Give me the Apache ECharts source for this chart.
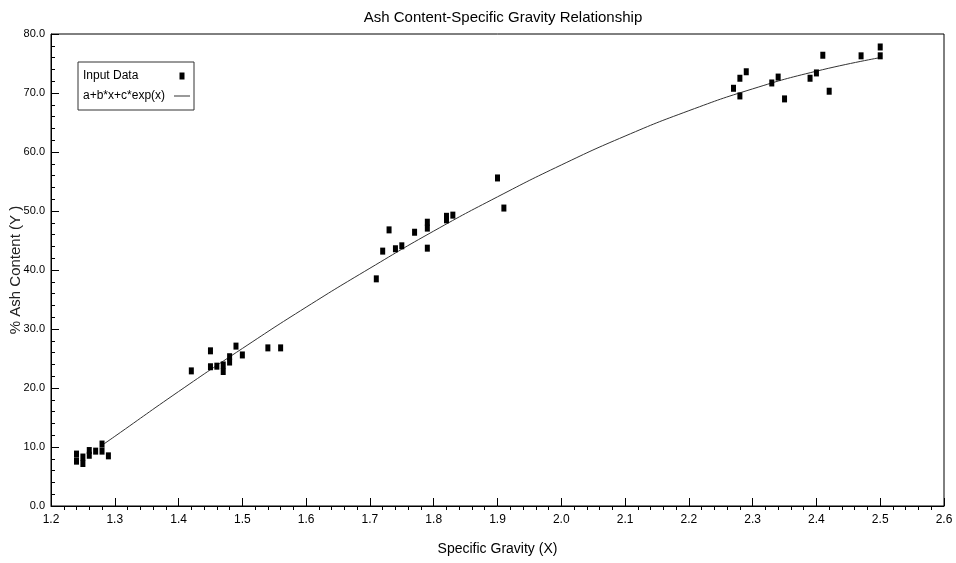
<!DOCTYPE html>
<html>
<head>
<meta charset="utf-8">
<script src="https://cdn.jsdelivr.net/npm/echarts@6/dist/echarts.min.js"></script>
<style>
  html, body { margin: 0; padding: 0; background: #fff; }
  #chart { width: 956px; height: 563px; }
</style>
</head>
<body>
<div id="chart"></div>
<script>
// Measured samples: specific gravity vs. % ash content
const specificGravity = [
  1.24, 1.24, 1.25, 1.25, 1.26, 1.26, 1.27, 1.28, 1.28, 1.29,
  1.42, 1.45, 1.45, 1.46, 1.47, 1.47, 1.48, 1.48, 1.49, 1.50, 1.54, 1.56,
  1.71, 1.72, 1.73, 1.74, 1.75, 1.77, 1.79, 1.79, 1.79, 1.82, 1.82, 1.83, 1.90, 1.91,
  2.27, 2.28, 2.28, 2.29, 2.33, 2.34, 2.35, 2.39, 2.40, 2.41, 2.42, 2.47, 2.50, 2.50
];
const ashContent = [
  8.8, 7.6, 8.3, 7.2, 9.4, 8.6, 9.3, 10.5, 9.3, 8.5,
  22.9, 26.3, 23.6, 23.7, 23.9, 22.8, 25.3, 24.4, 27.1, 25.6, 26.8, 26.8,
  38.5, 43.2, 46.8, 43.6, 44.1, 46.4, 48.1, 47.1, 43.7, 48.5, 49.1, 49.3, 55.6, 50.5,
  70.8, 72.5, 69.5, 73.6, 71.7, 72.7, 69.0, 72.5, 73.4, 76.4, 70.3, 76.3, 77.8, 76.3
];

// Fitted curve a+b*x+c*exp(x), sampled along the drawn line
const fitX = [1.28, 1.30, 1.40, 1.50, 1.60, 1.70, 1.80, 1.90, 2.00, 2.10, 2.20, 2.30, 2.40, 2.50];
const fitY = [10.3, 11.8, 19.4, 26.7, 33.7, 40.3, 46.6, 52.4, 57.8, 62.7, 67.0, 70.7, 73.7, 76.0];

const titleText = 'Ash Content-Specific Gravity Relationship';
const xAxisTitle = 'Specific Gravity (X)';
const yAxisTitle = '% Ash Content (Y )';
const pointsName = 'Input Data';
const fitName = 'a+b*x+c*exp(x)';

const narrow = "'Liberation Sans Narrow', 'Liberation Sans', Arial, sans-serif";

const points = specificGravity.map((x, i) => [x, ashContent[i]]);
const fitLine = fitX.map((x, i) => [x, fitY[i]]);

const chart = echarts.init(document.getElementById('chart'), null, { renderer: 'canvas' });
chart.setOption({
  animation: false,
  backgroundColor: '#ffffff',
  title: {
    text: titleText,
    left: 498,
    textAlign: 'center',
    top: 5,
    textStyle: { fontFamily: narrow, fontSize: 15, fontWeight: 'normal', color: '#000' }
  },
  legend: {
    left: 78,
    top: 62,
    orient: 'vertical',
    align: 'right',
    itemGap: 8,
    itemWidth: 16,
    itemHeight: 7,
    padding: [8, 4, 8, 5],
    borderColor: '#333',
    borderWidth: 1,
    formatter: name => '{t|' + name + '}',
    textStyle: {
      fontFamily: narrow, fontSize: 12, color: '#000',
      rich: { t: { width: 86, align: 'left', fontFamily: narrow, fontSize: 12, color: '#000' } }
    },
    data: [
      { name: pointsName, icon: 'path://M0,0 H5 V7 H0 Z', itemStyle: { color: '#000', opacity: 1 } },
      { name: fitName, icon: 'path://M0,0 H16 V1 H0 Z', itemStyle: { color: '#333' } }
    ]
  },
  grid: {
    left: 51, right: 12, top: 34, bottom: 57,
    containLabel: false,
    outerBoundsMode: 'none',
    show: true, borderColor: '#000', borderWidth: 1
  },
  xAxis: {
    type: 'value',
    min: 1.2, max: 2.6, interval: 0.1,
    name: xAxisTitle,
    nameLocation: 'middle',
    nameGap: 36,
    nameMoveOverlap: false,
    nameTextStyle: { fontFamily: narrow, fontSize: 14, color: '#000' },
    axisLine: { show: true, onZero: false, lineStyle: { color: '#000', width: 1 } },
    axisTick: { show: true, inside: true, length: 8, lineStyle: { color: '#000' } },
    minorTick: { show: true, splitNumber: 5, length: -4, lineStyle: { color: '#000' } },
    splitLine: { show: false },
    axisLabel: {
      fontFamily: narrow, fontSize: 12, color: '#000', margin: 8,
      formatter: v => v.toFixed(1)
    }
  },
  yAxis: {
    type: 'value',
    min: 0, max: 80, interval: 10,
    name: yAxisTitle,
    nameLocation: 'middle',
    nameGap: 28,
    nameMoveOverlap: false,
    nameRotate: 90,
    nameTextStyle: { fontFamily: "'Liberation Sans', Arial, sans-serif", fontSize: 15, color: '#222' },
    axisLine: { show: true, onZero: false, lineStyle: { color: '#000', width: 1 } },
    axisTick: { show: true, inside: true, length: 8, lineStyle: { color: '#000' } },
    minorTick: { show: true, splitNumber: 5, length: 4, lineStyle: { color: '#000' } },
    splitLine: { show: false },
    axisLabel: {
      fontFamily: narrow, fontSize: 11, color: '#000', margin: 6,
      formatter: v => v.toFixed(1)
    }
  },
  series: [
    {
      name: pointsName,
      type: 'scatter',
      data: points,
      symbol: 'rect',
      symbolSize: [5, 7],
      itemStyle: { color: '#000', opacity: 1 },
      z: 3
    },
    {
      name: fitName,
      type: 'line',
      data: fitLine,
      smooth: true,
      showSymbol: false,
      symbol: 'none',
      lineStyle: { color: '#333', width: 1 },
      itemStyle: { color: '#333' },
      z: 2
    }
  ]
});
</script>
</body>
</html>
